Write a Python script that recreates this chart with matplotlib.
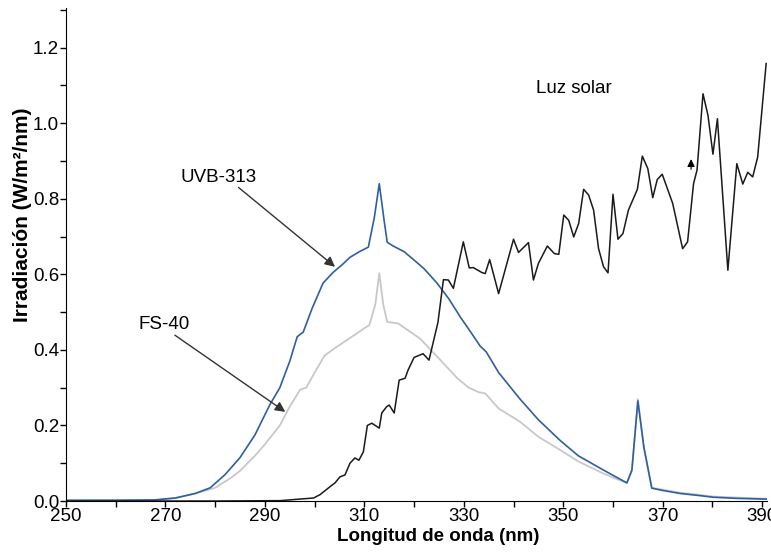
import matplotlib.pyplot as plt
from matplotlib.ticker import MultipleLocator

plt.rcParams['font.family'] = ['Liberation Sans', 'DejaVu Sans']

# UVB-313 lamp spectrum
uvb_nm = [250, 260, 268, 272, 276, 279, 282, 285, 288, 291, 293, 295, 296.5, 297.7,
          299.5, 301.7, 303.7, 305.5, 307.1, 309, 310.8, 312, 313, 314, 314.6, 315.8,
          318, 319.8, 322, 324.6, 327, 329.3, 331.5, 333.3, 334.5, 337, 341.3, 345,
          349.4, 353, 357.4, 360, 362.8, 363.8, 365.0, 366.2, 367.8, 370, 373.5, 377,
          380.2, 385, 391]
uvb_val = [0.002, 0.002, 0.003, 0.008, 0.02, 0.035, 0.07, 0.115, 0.175, 0.255, 0.30,
           0.37, 0.435, 0.447, 0.51, 0.577, 0.605, 0.625, 0.645, 0.66, 0.672, 0.75,
           0.84, 0.74, 0.685, 0.675, 0.66, 0.64, 0.615, 0.577, 0.535, 0.487, 0.445,
           0.41, 0.395, 0.34, 0.27, 0.215, 0.16, 0.12, 0.087, 0.068, 0.048, 0.082,
           0.265, 0.144, 0.034, 0.028, 0.020, 0.015, 0.01, 0.007, 0.005]

# FS-40 lamp spectrum
fs_nm = [250, 268, 272, 276, 280, 283, 285, 288, 290, 293, 295, 297.1, 298.3, 300,
         302, 304.1, 307.5, 311, 312.2, 313, 313.8, 314.6, 316.8, 319, 321.2, 323,
         325.3, 328.7, 331, 333, 334.3, 337, 341.3, 345, 349.4, 353, 357.4, 360,
         362.8, 363.8, 365, 366.2, 367.8, 370, 373.5, 377, 380, 385, 391]
fs_val = [0.001, 0.003, 0.008, 0.02, 0.035, 0.06, 0.08, 0.12, 0.15, 0.2, 0.25, 0.295,
          0.30, 0.34, 0.385, 0.405, 0.435, 0.466, 0.52, 0.603, 0.52, 0.474, 0.47,
          0.45, 0.43, 0.405, 0.373, 0.325, 0.30, 0.288, 0.285, 0.245, 0.21, 0.17,
          0.135, 0.105, 0.077, 0.062, 0.048, 0.08, 0.27, 0.14, 0.035, 0.03, 0.022,
          0.017, 0.012, 0.009, 0.006]

# sunlight spectrum
sun_nm = [250, 280, 293.1, 299.8, 301.1, 303.1, 304.1, 305.1, 306.1, 307.1, 308.1,
          308.9, 309.8, 310.6, 311.5, 313.0, 313.5, 314.5, 315.0, 316.0, 317.0, 318.2,
          318.8, 320.0, 321.8, 323.0, 324.8, 325.9, 326.9, 327.9, 329.9, 331.1, 331.9,
          333.6, 334.3, 335.2, 337.0, 340.0, 341.0, 343.0, 344.0, 345.0, 346.8, 348.2,
          349.1, 350.1, 351.1, 352.1, 353.1, 354.1, 355.1, 356.1, 357.1, 358.1, 359.0,
          360.0, 361.0, 362.0, 363.1, 364.9, 365.9, 367.0, 368.0, 368.9, 369.9, 372.0,
          374.0, 375.0, 376.2, 376.9, 378.1, 379.1, 380.1, 381.0, 383.1, 384.9, 386.1,
          387.1, 388.1, 389.1, 390.8]
sun_val = [0.0, 0.0, 0.001, 0.008, 0.017, 0.038, 0.048, 0.064, 0.069, 0.10, 0.114,
           0.108, 0.13, 0.20, 0.206, 0.193, 0.233, 0.25, 0.254, 0.233, 0.32, 0.325,
           0.347, 0.38, 0.39, 0.373, 0.473, 0.586, 0.585, 0.563, 0.686, 0.617, 0.618,
           0.605, 0.602, 0.639, 0.549, 0.693, 0.658, 0.684, 0.585, 0.629, 0.675, 0.655,
           0.653, 0.757, 0.743, 0.699, 0.735, 0.825, 0.81, 0.77, 0.668, 0.62, 0.604,
           0.812, 0.693, 0.708, 0.77, 0.825, 0.913, 0.88, 0.803, 0.851, 0.865, 0.788,
           0.668, 0.686, 0.84, 0.876, 1.078, 1.021, 0.918, 1.012, 0.611, 0.893, 0.839,
           0.87, 0.858, 0.911, 1.158]

x_major = [250, 270, 290, 310, 330, 350, 370, 390]
x_minor = [260, 280, 300, 320, 340, 360, 380]

fig = plt.figure(figsize=(7.71, 5.53), dpi=100)
ax = fig.add_axes([0.0856, 0.094, 0.9094, 0.8915])

ax.plot(fs_nm, fs_val, color='#c8c8c8', lw=1.3)
ax.plot(uvb_nm, uvb_val, color='#2f5f9e', lw=1.2)
ax.plot(sun_nm, sun_val, color='#1a1a1a', lw=1.1)

ax.set_xlim(250, 391)
ax.set_ylim(0, 1.305)
ax.set_xticks(x_major)
ax.set_xticks(x_minor, minor=True)
ax.yaxis.set_major_locator(MultipleLocator(0.2))
ax.yaxis.set_minor_locator(MultipleLocator(0.1))
ax.yaxis.set_major_formatter(plt.FormatStrFormatter('%.1f'))
ax.tick_params(which='both', direction='out', length=4, width=1, labelsize=13.5, pad=1)
ax.spines['top'].set_visible(False)
ax.spines['right'].set_visible(False)

ax.set_xlabel('Longitud de onda (nm)', fontsize=13.5, fontweight='bold')
ax.set_ylabel('Irradiación (W/m²/nm)', fontsize=15, fontweight='bold')
ax.xaxis.set_label_coords(0.531, -0.055)
ax.yaxis.set_label_coords(-0.048, 0.58)

arrow = dict(arrowstyle='-|>', color='#333333', lw=1.0, mutation_scale=15,
             shrinkA=0, shrinkB=0)
ax.text(280.7, 0.857, 'UVB-313', fontsize=13.5, ha='center', va='center')
ax.annotate('', xy=(304.1, 0.62), xytext=(284.7, 0.83), arrowprops=arrow)
ax.text(269.7, 0.468, 'FS-40', fontsize=13.5, ha='center', va='center')
ax.annotate('', xy=(294.1, 0.236), xytext=(271.9, 0.439), arrowprops=arrow)
ax.text(352.2, 1.093, 'Luz solar', fontsize=13.5, ha='center', va='center')
# small stray arrowhead near the sunlight curve
ax.annotate('', xy=(375.7, 0.905), xytext=(375.7, 0.878),
            arrowprops=dict(arrowstyle='-|>', color='black', lw=0.8, mutation_scale=11,
                            shrinkA=0, shrinkB=0))

fig.savefig('out.png', dpi=100)
